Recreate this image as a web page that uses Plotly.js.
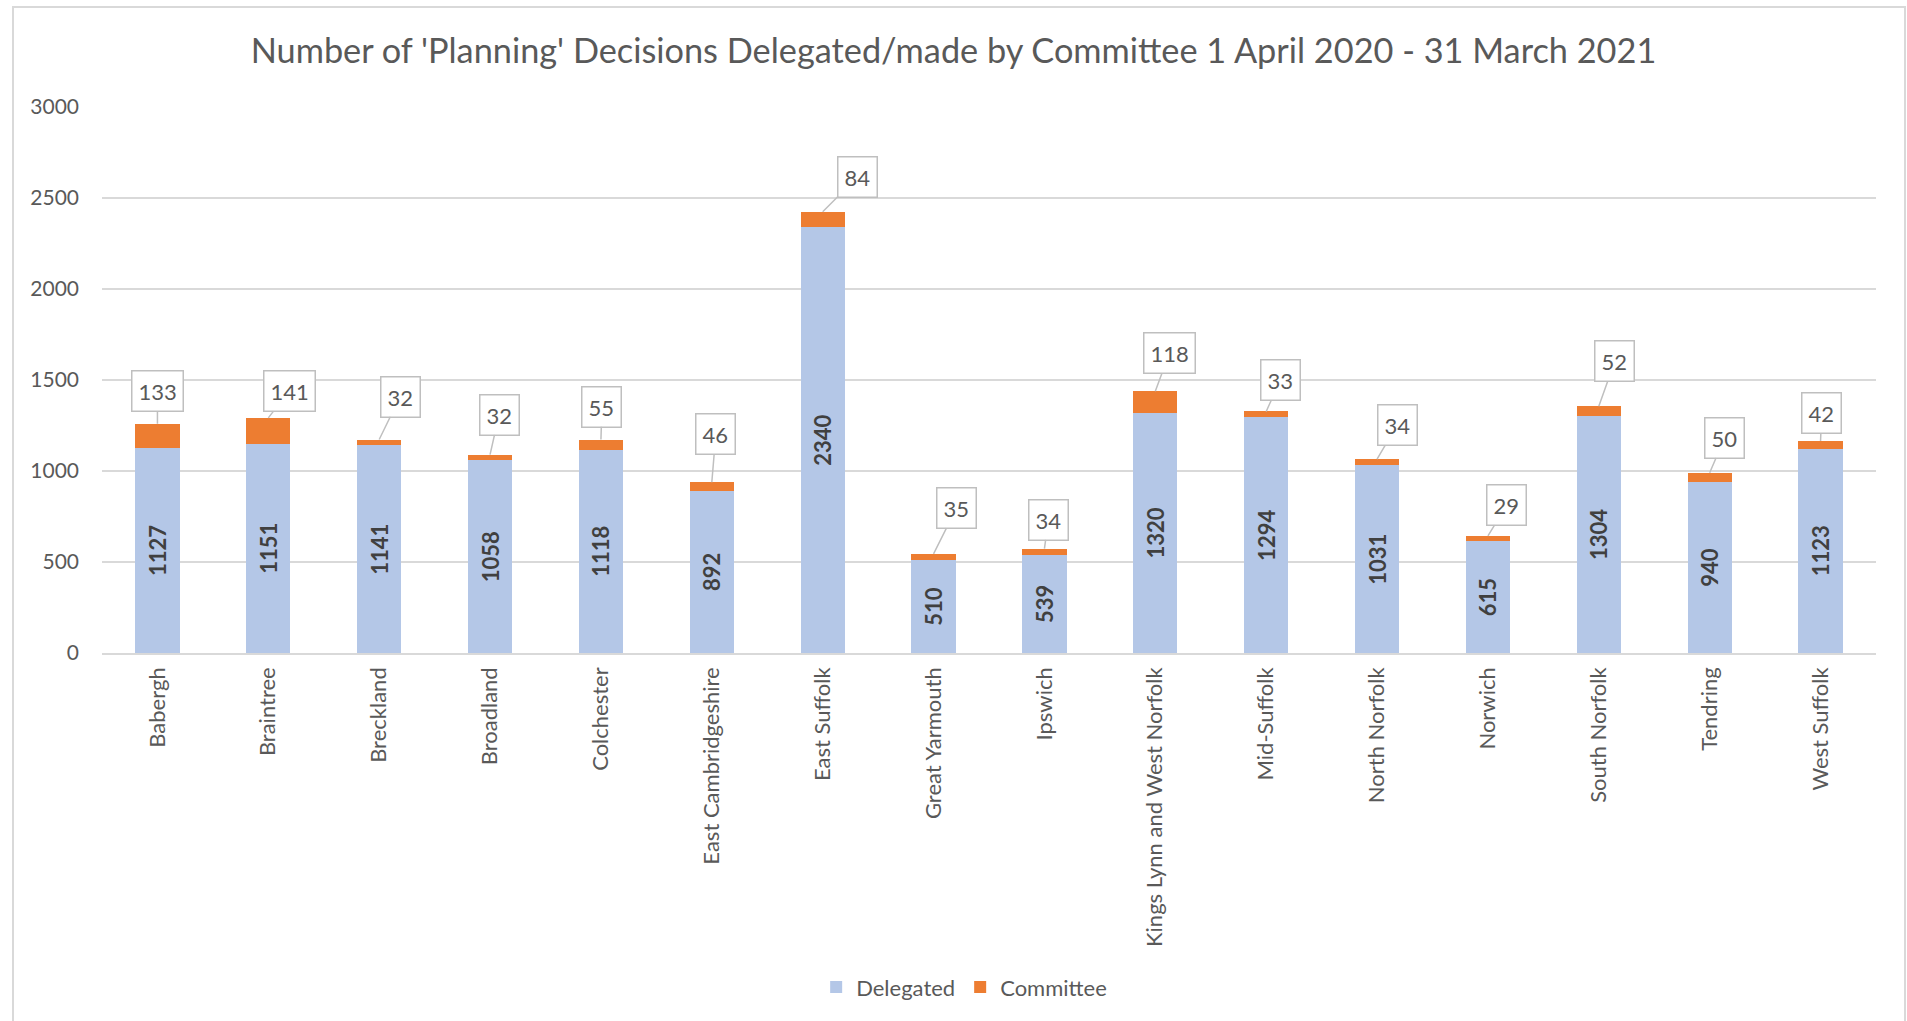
<!DOCTYPE html>
<html>
<head>
<meta charset="utf-8">
<script src="https://cdn.plot.ly/plotly-3.0.1.min.js"></script>
<style>
  html, body { margin: 0; padding: 0; background: #fff; overflow: hidden; }
  #chart { width: 1907px; height: 1021px; }
  #frame { position: absolute; left: 12px; top: 6px; width: 1890px; height: 1040px;
           border: 2px solid #d9d9d9; pointer-events: none; }
</style>
</head>
<body>
<div id="chart"></div>
<div id="frame"></div>
<script>
const categories = ["Babergh", "Braintree", "Breckland", "Broadland", "Colchester",
  "East Cambridgeshire", "East Suffolk", "Great Yarmouth", "Ipswich",
  "Kings Lynn and West Norfolk", "Mid-Suffolk", "North Norfolk", "Norwich",
  "South Norfolk", "Tendring", "West Suffolk"];
const delegated = [1127, 1151, 1141, 1058, 1118, 892, 2340, 510, 539, 1320, 1294, 1031, 615, 1304, 940, 1123];
const committee = [133, 141, 32, 32, 55, 46, 84, 35, 34, 118, 33, 34, 29, 52, 50, 42];
const yTicks = [0, 500, 1000, 1500, 2000, 2500, 3000];

// callout label offsets (pixels) from the top of each stacked bar
const calloutDX = [0, 21, 21, 9, 1, 4, 35, 23, 4, 14, 14, 20, 19, 16, 15, 1];
const calloutDY = [-33, -27, -43, -40, -33, -48, -35, -46, -29, -38, -31, -34, -31, -45, -35, -28];

const textColor = '#595959';
const fontFam = 'Lato, "Open Sans", sans-serif';

const traces = [
  {
    type: 'bar', name: 'Delegated', x: categories, y: delegated,
    marker: { color: '#b4c7e7' },
    text: delegated.map(String), textposition: 'inside', insidetextanchor: 'middle',
    textangle: -90, constraintext: 'none',
    textfont: { family: fontFam, size: 22, color: '#404040', weight: 'bold' },
    hoverinfo: 'x+y'
  },
  {
    type: 'bar', name: 'Committee', x: categories, y: committee,
    marker: { color: '#ed7d31' },
    hoverinfo: 'x+y'
  }
];

const annotations = categories.map((c, i) => ({
  x: c, y: delegated[i] + committee[i], xref: 'x', yref: 'y',
  text: String(committee[i]),
  showarrow: true, arrowhead: 0, arrowwidth: 1.5, arrowcolor: '#bfbfbf',
  standoff: 0, ax: calloutDX[i], ay: calloutDY[i],
  bgcolor: '#ffffff', bordercolor: '#bfbfbf', borderwidth: 1.5, borderpad: 6,
  font: { family: fontFam, size: 22, color: textColor }
}));

const layout = {
  width: 1907, height: 1021,
  barmode: 'stack', bargap: 0.6,
  paper_bgcolor: '#ffffff', plot_bgcolor: '#ffffff',
  margin: { l: 102, r: 31, t: 107, b: 368 },
  font: { family: fontFam, color: textColor },
  title: {
    text: "Number of 'Planning' Decisions Delegated/made by Committee 1 April 2020 - 31 March 2021",
    font: { family: fontFam, size: 34.3, color: textColor },
    x: 0.5, xanchor: 'center', xref: 'container',
    y: 0.95, yanchor: 'middle', yref: 'container'
  },
  xaxis: {
    type: 'category', tickangle: -90, showline: true, linecolor: '#d9d9d9', linewidth: 1.5,
    ticks: '', showgrid: false, ticklabelstandoff: 4,
    tickfont: { family: fontFam, size: 22, color: textColor }
  },
  yaxis: {
    range: [0, 3000], tickvals: yTicks, ticktext: yTicks.map(String),
    showgrid: true, gridcolor: '#d9d9d9', gridwidth: 1.5,
    zeroline: false, showline: false, ticks: '', ticklabelstandoff: 22,
    tickfont: { family: fontFam, size: 21, color: textColor }
  },
  legend: {
    orientation: 'h', x: 0.486, xanchor: 'center', y: 0.033, yanchor: 'middle', yref: 'container',
    font: { family: fontFam, size: 22, color: textColor }, traceorder: 'normal',
    itemwidth: 30
  },
  annotations: annotations,
  showlegend: true
};

Plotly.newPlot('chart', traces, layout, { displayModeBar: false, staticPlot: true });
</script>
</body>
</html>
